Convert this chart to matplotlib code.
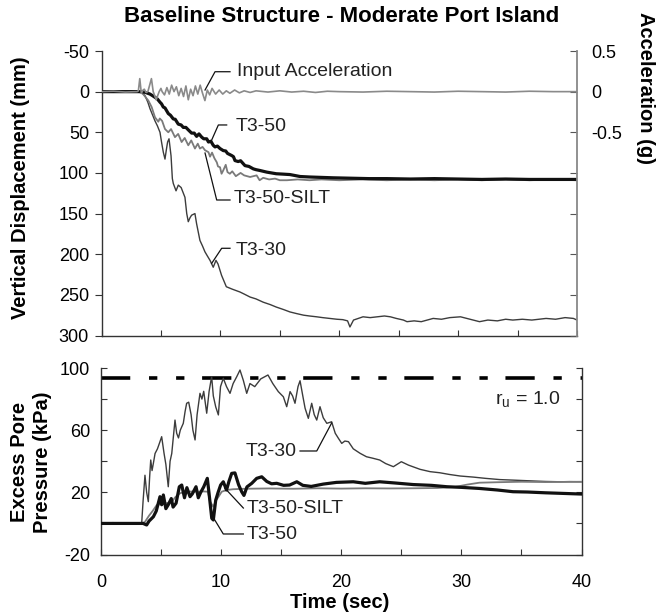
import matplotlib
matplotlib.use("Agg")
import matplotlib.pyplot as plt
from matplotlib.lines import Line2D

plt.rcParams['font.family'] = ['Liberation Sans', 'DejaVu Sans']

# ---------------- data ----------------
# Top panel: vertical displacement (mm)
t30_top = [0, 1, 2, 3, 3.4, 3.66, 3.9, 4.08, 4.36, 4.5, 4.7, 4.92, 5.05, 5.2, 5.34, 5.45, 5.56, 5.68,
           5.85, 5.96, 6.04, 6.27, 6.46, 6.7, 7.02, 7.17, 7.3, 7.45, 7.58, 7.86, 8.0, 8.28, 8.5, 8.7,
           8.9, 9.13, 9.4, 9.63, 9.8, 10.1, 10.5, 11.0, 11.65, 12.0, 12.5, 13.0, 13.6, 14.2, 14.7,
           15.3, 15.85, 16.4, 17.0, 17.5, 18.1, 18.6, 19.2, 19.8, 20.3, 20.7, 20.9, 21.2, 21.6, 22.0,
           22.6, 23.2, 23.8, 24.3, 24.8, 25.4, 25.7, 26.3, 26.9, 27.9, 28.6, 29.3, 30.2, 31.0, 31.8,
           32.5, 33.3, 34.0, 34.6, 35.4, 36.2, 37.4, 38.2, 39.0, 39.7, 40]
d30_top = [0, 0.5, -0.5, 0, 1, 5, 13, 21, 31, 36, 42, 50, 62, 74.5, 83, 72, 62, 58,
           79, 107, 113, 122, 115, 118, 130, 150, 160, 155, 152, 150, 162.5, 183, 190, 197,
           202, 207.6, 216, 207.6, 212, 226, 240, 243, 246.5, 249, 252.7, 255, 259, 262, 265,
           268, 271, 273, 275, 276, 277, 278, 279, 280, 280.5, 282, 289.5, 281, 279, 277,
           278, 277, 276, 277, 279, 281, 283, 282, 283, 279, 280, 278, 277, 280, 283,
           281, 282, 280, 281, 280, 281, 279, 280, 278, 279, 281]

t50_top = [0, 1.5, 3.0, 3.4, 3.7, 4.08, 4.3, 4.5, 4.7, 4.92, 5.05, 5.2, 5.34, 5.62, 5.8, 6.04, 6.2,
           6.46, 6.7, 6.88, 7.1, 7.3, 7.58, 7.8, 8.0, 8.2, 8.43, 8.6, 8.85, 9.0, 9.2, 9.4, 9.55,
           9.75, 9.97, 10.24, 10.45, 10.6, 10.95, 11.1, 11.23, 11.5, 11.7, 12.07, 12.4, 12.77, 13.0,
           13.33, 13.9, 14.3, 14.7, 15.3, 15.85, 16.7, 17.5, 18.5, 19.5, 21, 22.5, 24, 26, 28, 30,
           32, 34, 36, 38, 40]
d50_top = [0, 0, 0, 0, 1, 3, 5, 7, 9, 13, 15, 19, 20, 27, 29, 33.6, 34,
           40, 41, 44, 44, 47, 51, 51, 55, 52, 56, 58, 58, 62, 61, 66, 68,
           67, 70, 72.5, 73, 76, 78.6, 80, 84.8, 86, 85, 91, 92, 95, 96,
           97, 99, 100, 101, 101.5, 102, 104.4, 105, 105.5, 106, 106.5, 107, 107, 107.5, 107, 107.5,
           108, 107.5, 108, 108, 108]

tsilt_top = [0, 1.5, 3.0, 3.3, 3.5, 3.94, 4.22, 4.5, 4.78, 4.9, 5.1, 5.34, 5.62, 5.85, 6.18, 6.45,
             6.74, 7.0, 7.3, 7.55, 7.86, 8.1, 8.28, 8.5, 8.7, 9.0, 9.13, 9.3, 9.5, 9.7, 9.8, 9.97,
             10.1, 10.24, 10.45, 10.6, 10.8, 11.0, 11.3, 11.7, 12.0, 12.5, 13.05, 13.3, 13.6, 14.1,
             14.6, 15.0, 15.6, 16.5, 17.5, 18.5, 20, 22, 24, 26, 28, 30, 32, 34, 36, 38, 40]
dsilt_top = [0, 0, 0, 1, 3, 11, 19, 31.6, 37, 33, 36, 46, 50, 46, 56, 52,
             62, 57, 66, 60, 70, 64, 70, 68, 72, 74.5, 80, 75, 82, 87, 92, 93,
             101, 97, 90, 99, 101, 98, 104, 100, 103, 105, 103, 109, 106, 108,
             107, 109, 109, 108, 109, 108, 109, 108, 109, 108, 109, 108, 109, 108, 109, 108, 109]

# Input acceleration (g)
t_acc = [0, 1, 2, 3.0, 3.1, 3.22, 3.35, 3.5, 3.6, 3.75, 3.9, 4.05, 4.2, 4.35, 4.6, 4.85, 5.0, 5.1,
         5.3, 5.5, 5.7, 5.9, 6.1, 6.3, 6.5, 6.7, 6.9, 7.1, 7.3, 7.5, 7.7, 7.9, 8.1, 8.3, 8.5, 8.7,
         8.9, 9.1, 9.3, 9.6, 9.9, 10.2, 10.5, 10.8, 11.2, 11.6, 12.0, 12.5, 13, 14, 15, 16, 17, 18,
         19, 20, 22, 24, 26, 28, 30, 32, 34, 36, 38, 40]
acc = [0, 0.005, -0.005, 0, 0.01, 0.16, -0.02, 0.02, 0.03, -0.01, 0.0, 0.08, 0.16, 0.0, -0.10, 0.0,
       0.04, 0.0, -0.04, 0.05, -0.03, 0.08, 0.0, 0.06, -0.05, 0.04, -0.06, 0.07, -0.1, 0.03, -0.05,
       0.07, -0.03, 0.08, -0.02, -0.11, 0.02, -0.04, 0.04, -0.03, 0.02, -0.03, 0.01, -0.02, 0.02,
       -0.015, 0.01, -0.01, 0.01, -0.005, 0.01, -0.005, 0.005, -0.01, 0.005, 0.0, -0.005, 0.005, 0,
       -0.005, 0.005, 0, -0.005, 0.005, 0, 0]

# Bottom panel: excess pore pressure (kPa)
t30_bot = [0, 1, 2, 3, 3.39, 3.5, 3.66, 3.8, 3.94, 4.05, 4.14, 4.25, 4.36, 4.5, 4.7, 4.86, 5.05,
           5.25, 5.4, 5.6, 5.75, 5.89, 6.16, 6.3, 6.45, 6.6, 6.85, 7.0, 7.13, 7.3, 7.5, 7.65, 7.83,
           8.0, 8.24, 8.4, 8.55, 8.8, 9.0, 9.21, 9.35, 9.55, 9.77, 9.95, 10.18, 10.45, 10.74, 11.0,
           11.3, 11.57, 11.85, 12.13, 12.4, 12.8, 13.3, 13.9, 14.3, 14.76, 15.18, 15.46, 15.74,
           15.95, 16.15, 16.4, 16.57, 16.8, 16.99, 17.26, 17.54, 17.75, 17.96, 18.23, 18.5, 18.8,
           19.2, 19.5, 19.76, 20.04, 20.3, 20.6, 21.0, 21.57, 22.1, 22.6, 23.2, 23.7, 24.34, 25.0,
           25.6, 26.56, 27.4, 28.2, 29.0, 29.9, 31.0, 32.0, 33.2, 34.5, 36.0, 37.0, 38.2, 39.0, 40]
p30_bot = [0, 0.5, -0.3, 0, 0.5, 14, 31, 20, 14, 30, 40.8, 34, 38.7, 45, 48, 51.5, 55.8,
           45, 38, 23.6, 40, 45, 66.5, 58, 55, 60, 64.4, 72, 77.3, 78, 70, 60, 53.7,
           70, 83.7, 80, 85, 70.9, 85, 94.4, 82, 75, 69.8, 88, 93.4, 88, 83.7, 90,
           94.4, 98.7, 92, 83.7, 90, 88, 93, 95.5, 90, 84.8, 81.5, 75.1, 84.8,
           82, 77.3, 88, 91.8, 82, 74.1, 67.6, 77.3, 70, 66.5, 75.1, 68, 64.4,
           65.4, 58, 54.8, 51.5, 53, 52.6, 48, 45.1, 42.9, 42, 40.8, 38.5, 36.5, 39.7,
           37.5, 34.8, 33.3, 32.6, 31.5, 30.5, 29.8, 29.0, 28.2, 27.8, 27.3, 27.0, 26.8, 26.9, 26.8]

tsilt_bot = [0, 1.5, 3.0, 3.5, 3.66, 4.0, 4.3, 4.64, 5.0, 5.47, 5.9, 6.2, 6.58, 7.0, 7.5, 8.0, 8.5,
             8.9, 9.08, 9.35, 9.6, 10.05, 10.47, 11, 12, 14, 16, 18, 20, 22, 24, 26, 28, 29.5, 30.5,
             31.5, 33, 35, 37, 40]
psilt_bot = [0, 0, 0, 0.3, 1, 5, 8, 11.8, 12.5, 13, 14, 17, 19.4, 20.4, 20.5, 20.4, 20.6,
             20.4, 14, 10.7, 15, 20.4, 21.5, 22, 22.3, 22.5, 22.3, 22.6, 22.4, 22.6, 22.5, 22.6, 22.8,
             23.5, 25, 26.2, 26.5, 26.8, 26.6, 26.8]

t50_bot = [0, 1.5, 3.0, 3.5, 3.8, 4.0, 4.36, 4.6, 4.91, 5.05, 5.19, 5.4, 5.6, 5.85, 6.0, 6.25,
           6.52, 6.72, 6.95, 7.15, 7.41, 7.6, 7.91, 8.1, 8.3, 8.55, 8.85, 9.0, 9.22, 9.35, 9.55,
           9.75, 9.96, 10.18, 10.45, 10.65, 10.88, 11.15, 11.45, 11.71, 11.9, 12.15, 12.55, 12.96,
           13.38, 13.8, 14.2, 14.63, 15.2, 15.7, 16.3, 16.8, 17.5, 18.5, 19.6, 21, 22, 23.2, 24.5,
           26, 27.5, 28.8, 30, 31.5, 33, 34.3, 35.5, 37, 38.5, 40]
p50_bot = [0, 0, 0, 0, -1, 1.5, 4.3, 8, 17.2, 12, 18.3, 9.5, 12, 16, 10.5, 13,
           23.6, 24.7, 16.5, 23, 17.2, 19, 23.6, 16.5, 20, 23.5, 29, 19, 3.3, 2.2, 15,
           20, 24.7, 26.8, 21.5, 27, 32.2, 32.5, 25, 20.4, 18, 23.5, 25.8, 29,
           30, 27, 25.5, 25.8, 24.5, 24.7, 26.8, 24.5, 23.8, 25.3, 26.4, 26.8, 25.8, 26.8, 26,
           25, 24.5, 23.6, 23.2, 22.5, 21.5, 20.4, 20.2, 19.7, 19.3, 18.9]

ru_level = 93.4   # kPa, r_u = 1.0

disp_ticks = [-50, 0, 50, 100, 150, 200, 250, 300]
acc_ticks = [0.5, 0, -0.5, -1.0, -1.5, -2.0, -2.5, -3.0]
acc_ticklabels = ['0.5', '0', '-0.5', '', '', '', '', '']
pp_ticks = [-20, 0, 20, 40, 60, 80, 100]
pp_ticklabels = ['-20', '', '20', '', '60', '', '100']
time_ticks = [0, 5, 10, 15, 20, 25, 30, 35, 40]
time_ticklabels = ['0', '', '10', '', '20', '', '30', '', '40']

# ---------------- figure ----------------
W, H = 665, 613
fig = plt.figure(figsize=(W / 100, H / 100), dpi=100)

def box(l, r, t, b):
    return [l / W, 1 - b / H, (r - l) / W, (b - t) / H]

ax1 = fig.add_axes(box(101.5, 577, 51, 335.5))
ax3 = fig.add_axes(box(101, 581.5, 368, 554.5))

C_BLACK = '#111111'
C_SILT = '#7a7a7a'
C_T30 = '#3c3c3c'
C_ACC = '#8a8a8a'
FS_TICK = 13
FS_ANN = 14
FS_LAB = 14.5

# top panel
ax1.plot(t30_top, d30_top, color=C_T30, lw=1.0, zorder=3)
ax1.plot(tsilt_top, dsilt_top, color=C_SILT, lw=1.3, zorder=4)
ax1.plot(t50_top, d50_top, color=C_BLACK, lw=2.3, zorder=5)
ax1.set_xlim(0, 40)
ax1.set_ylim(300, -50)
ax1.set_yticks(disp_ticks)
ax1.set_yticklabels([str(v) for v in disp_ticks])
ax1.set_xticks(time_ticks)
ax1.set_xticklabels([])
ax1.tick_params(axis='y', direction='out', length=5, labelsize=FS_TICK, color='#333333', pad=4)
ax1.tick_params(axis='x', direction='in', length=4, color='#333333')
ax1.spines['top'].set_visible(False)
ax1.spines['right'].set_visible(False)
for s in ('left', 'bottom'):
    ax1.spines[s].set_color('#333333')
    ax1.spines[s].set_linewidth(1.0)

ax2 = ax1.twinx()
ax2.plot(t_acc, acc, color=C_ACC, lw=1.2, zorder=2)
ax2.set_ylim(-3.0, 0.5)
ax2.set_xlim(0, 40)
ax2.set_yticks(acc_ticks)
ax2.set_yticklabels(acc_ticklabels)
ax2.tick_params(axis='y', direction='in', length=5, labelsize=FS_TICK, color='#555555', pad=10)
for s in ('top', 'left', 'bottom'):
    ax2.spines[s].set_visible(False)
ax2.spines['right'].set_color('#888888')
ax2.spines['right'].set_linewidth(1.3)

# top annotations (leader lines)
def leader(ax, xs, ys):
    ax.add_line(Line2D(xs, ys, color='#111111', lw=0.9, zorder=6))

leader(ax1, [8.71, 9.55, 10.81], [-2.0, -24.5, -24.5])
ax1.text(11.4, -24.5, 'Input Acceleration', fontsize=FS_ANN, ha='left', va='center', color='#222222')
leader(ax1, [9.27, 9.83, 10.53], [59.5, 41.0, 41.0])
ax1.text(11.3, 43.0, 'T3-50', fontsize=FS_ANN, ha='left', va='center', color='#222222')
leader(ax1, [8.71, 9.69, 10.81], [75.5, 133.3, 133.3])
ax1.text(11.1, 132.0, 'T3-50-SILT', fontsize=FS_ANN, ha='left', va='center', color='#222222')
leader(ax1, [9.27, 10.11, 10.81], [211.2, 192.7, 192.7])
ax1.text(11.3, 196.0, 'T3-30', fontsize=FS_ANN, ha='left', va='center', color='#222222')

# bottom panel
ax3.plot([0, 40], [ru_level, ru_level], color='black', lw=2.6, solid_capstyle='butt',
         dash_capstyle='butt', dashes=(8.1, 5.2, 2.3, 5.2, 2.3, 4.9), zorder=2)
ax3.plot(t30_bot, p30_bot, color=C_T30, lw=1.0, zorder=3)
ax3.plot(tsilt_bot, psilt_bot, color=C_SILT, lw=1.3, zorder=4)
ax3.plot(t50_bot, p50_bot, color=C_BLACK, lw=2.3, zorder=5)
ax3.set_xlim(0, 40)
ax3.set_ylim(-20, 100)
ax3.set_yticks(pp_ticks)
ax3.set_yticklabels(pp_ticklabels)
ax3.set_xticks(time_ticks)
ax3.set_xticklabels(time_ticklabels)
ax3.tick_params(axis='both', direction='in', length=4, labelsize=FS_TICK, color='#333333')
ax3.tick_params(axis='y', right=True, pad=8)
ax3.tick_params(axis='x', pad=14)
ax3.spines['top'].set_visible(False)
for s in ('left', 'bottom', 'right'):
    ax3.spines[s].set_color('#333333')
    ax3.spines[s].set_linewidth(1.0)

leader(ax3, [19.2, 17.96, 16.57], [64.6, 46.6, 46.6])
ax3.text(16.3, 46.1, 'T3-30', fontsize=FS_ANN, ha='right', va='center', color='#222222')
leader(ax3, [10.32, 11.85], [22.6, 9.9])
ax3.text(12.1, 9.7, 'T3-50-SILT', fontsize=FS_ANN, ha='left', va='center', color='#222222')
leader(ax3, [9.22, 10.18, 11.85], [5.4, -6.8, -6.8])
ax3.text(12.1, -7.2, 'T3-50', fontsize=FS_ANN, ha='left', va='center', color='#222222')
ax3.text(32.8, 79.4, r'r$_\mathregular{u}$ = 1.0', fontsize=FS_ANN, ha='left', va='center',
         color='#222222')

# titles & labels
fig.text(342 / W, 1 - 17 / H, 'Baseline Structure - Moderate Port Island', fontsize=16,
         fontweight='bold', ha='center', va='center')
fig.text(21 / W, 1 - 188 / H, 'Vertical Displacement (mm)', fontsize=FS_LAB, fontweight='bold',
         rotation=90, ha='center', va='center')
fig.text(646 / W, 1 - 88 / H, 'Acceleration (g)', fontsize=FS_LAB, fontweight='bold',
         rotation=-90, ha='center', va='center')
fig.text(31 / W, 1 - 462 / H, 'Excess Pore\nPressure (kPa)', fontsize=FS_LAB, fontweight='bold',
         rotation=90, ha='center', va='center', multialignment='center', linespacing=1.25)
fig.text(340 / W, 1 - 603 / H, 'Time (sec)', fontsize=FS_LAB, fontweight='bold',
         ha='center', va='center')

fig.savefig('out.png', dpi=100)
